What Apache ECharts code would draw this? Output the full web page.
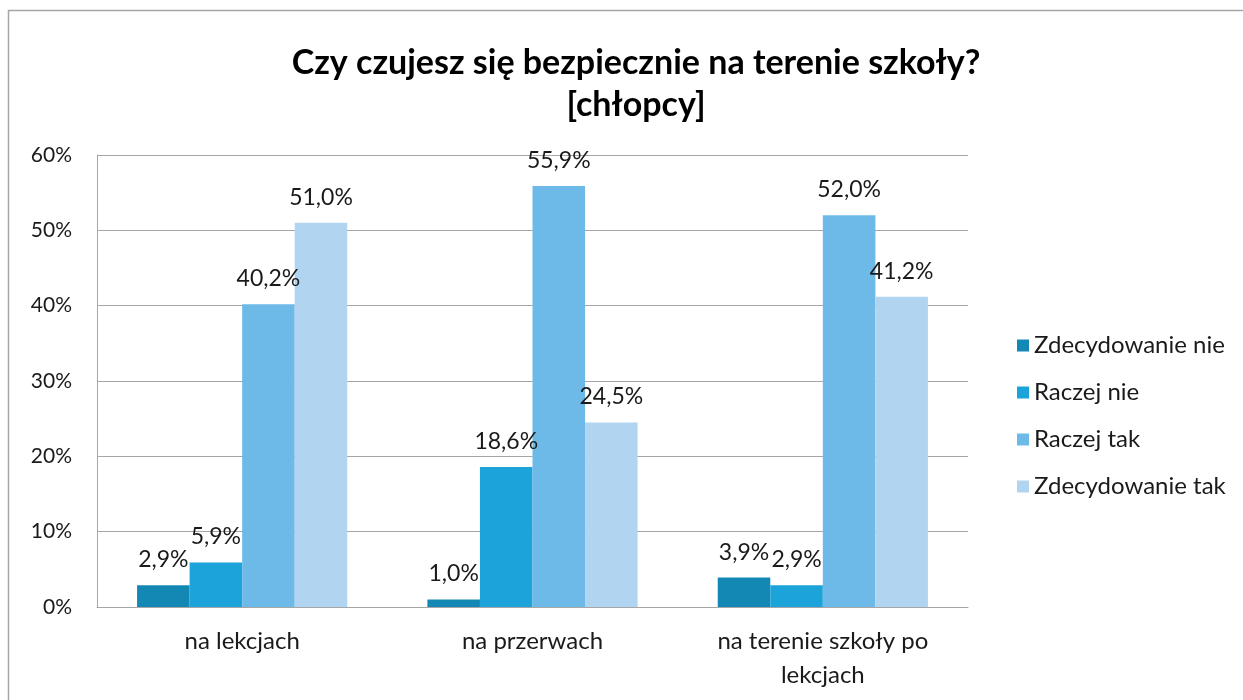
<!DOCTYPE html>
<html>
<head>
<meta charset="utf-8">
<script src="https://cdn.jsdelivr.net/npm/echarts@6/dist/echarts.min.js"></script>
<style>
  html, body { margin: 0; padding: 0; background: #fff; }
  #main { width: 1243px; height: 700px; }
</style>
</head>
<body>
<div id="main"></div>
<script>
var categories = ['na lekcjach', 'na przerwach', 'na terenie szkoły po\nlekcjach'];
var seriesNames = ['Zdecydowanie nie', 'Raczej nie', 'Raczej tak', 'Zdecydowanie tak'];
var zdecydowanieNie = [2.9, 1.0, 3.9];
var raczejNie = [5.9, 18.6, 2.9];
var raczejTak = [40.2, 55.9, 52.0];
var zdecydowanieTak = [51.0, 24.5, 41.2];
var yTicks = [0, 10, 20, 30, 40, 50, 60];

var colors = ['#1488b5', '#1ca3d9', '#6dbae8', '#b1d5f0'];
var font = 'Lato, "Open Sans", sans-serif';

var chart = echarts.init(document.getElementById('main'));

function makeSeries(name, data, i) {
  return {
    name: name,
    type: 'bar',
    data: data,
    barGap: '0%',
    barCategoryGap: '27.6%',
    itemStyle: { color: colors[i] },
    label: {
      show: true,
      position: 'top',
      distance: 14,
      color: '#1a1a1a',
      fontSize: 23,
      fontFamily: font,
      formatter: function (p) {
        return p.value.toFixed(1).replace('.', ',') + '%';
      }
    }
  };
}

var option = {
  backgroundColor: '#fff',
  animation: false,
  title: {
    text: 'Czy czujesz się bezpiecznie na terenie szkoły?\n[chłopcy]',
    left: 631,
    textAlign: 'center',
    top: 37,
    textStyle: {
      fontFamily: font,
      fontWeight: 'bold',
      fontSize: 34,
      lineHeight: 42,
      color: '#000'
    }
  },
  legend: {
    orient: 'vertical',
    left: 1012,
    top: 328,
    itemWidth: 12,
    itemHeight: 12,
    itemGap: 22,
    icon: 'rect',
    data: seriesNames,
    textStyle: { fontSize: 24, fontFamily: font, color: '#1a1a1a', lineHeight: 25 }
  },
  grid: {
    left: 97,
    right: 275,
    top: 155,
    bottom: 93,
    containLabel: false
  },
  xAxis: {
    type: 'category',
    data: categories,
    axisLine: { lineStyle: { color: '#a6a6a6' } },
    axisTick: { show: false },
    axisLabel: {
      fontSize: 24,
      fontFamily: font,
      color: '#1a1a1a',
      margin: 17,
      lineHeight: 34
    }
  },
  yAxis: {
    type: 'value',
    min: yTicks[0],
    max: yTicks[yTicks.length - 1],
    interval: 10,
    axisLine: { show: true, lineStyle: { color: '#a6a6a6' } },
    axisTick: { show: false },
    splitLine: { lineStyle: { color: '#a6a6a6' } },
    axisLabel: {
      fontSize: 21,
      fontFamily: font,
      color: '#1a1a1a',
      margin: 25,
      formatter: '{value}%'
    }
  },
  graphic: [{
    type: 'rect',
    shape: { x: 8.5, y: 10.5, width: 1400, height: 900 },
    style: { fill: 'none', stroke: '#a6a6a6', lineWidth: 1.5 },
    silent: true
  }],
  series: [
    makeSeries(seriesNames[0], zdecydowanieNie, 0),
    makeSeries(seriesNames[1], raczejNie, 1),
    makeSeries(seriesNames[2], raczejTak, 2),
    makeSeries(seriesNames[3], zdecydowanieTak, 3)
  ]
};

chart.setOption(option);
</script>
</body>
</html>
